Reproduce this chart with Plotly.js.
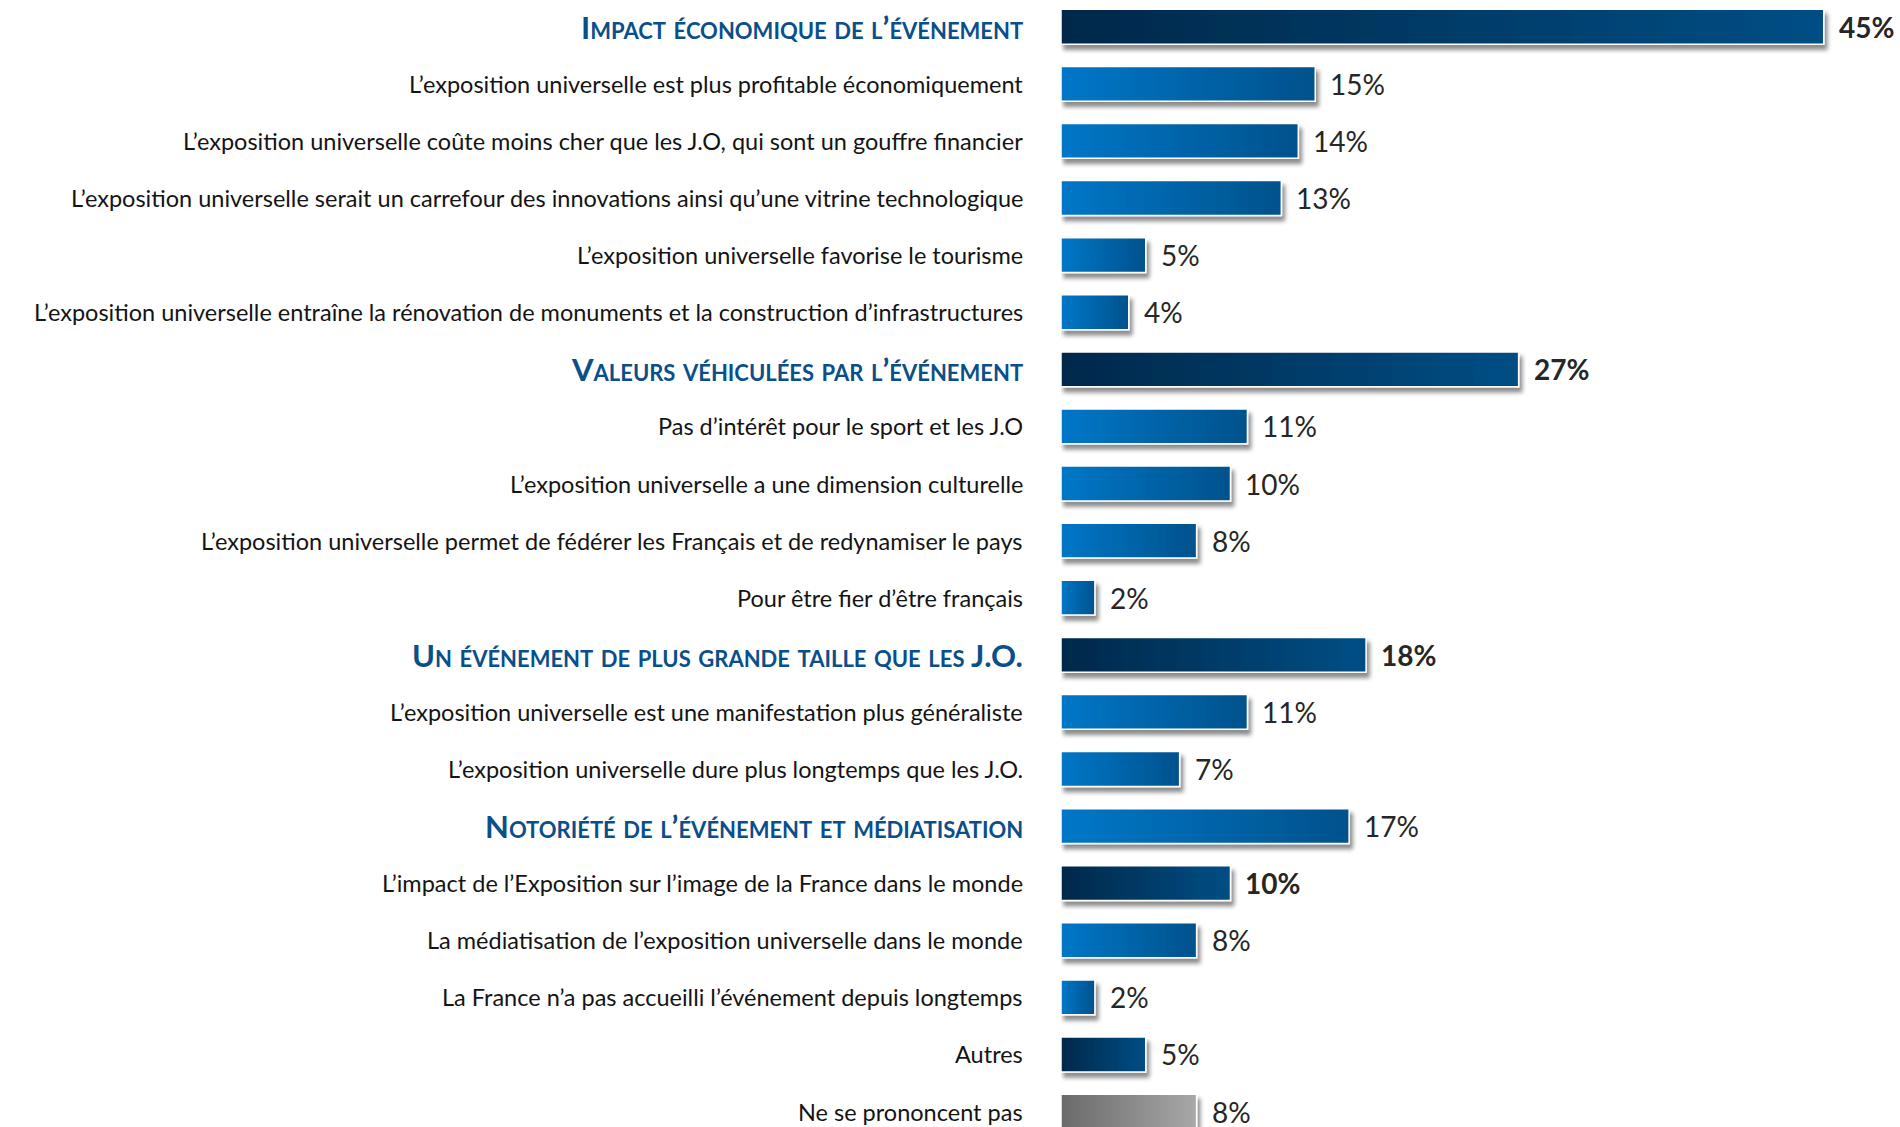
<!DOCTYPE html>
<html>
<head>
<meta charset="utf-8">
<script src="https://cdn.plot.ly/plotly-3.0.1.min.js"></script>
<style>
html,body{margin:0;padding:0;background:#fff;}
#chart{width:1900px;height:1127px;}
</style>
</head>
<body>
<div id="chart"></div>
<script>
// ---- data ----
const categories = [
  "Impact économique de l’événement",
  "L’exposition universelle est plus profitable économiquement",
  "L’exposition universelle coûte moins cher que les J.O, qui sont un gouffre financier",
  "L’exposition universelle serait un carrefour des innovations ainsi qu’une vitrine technologique",
  "L’exposition universelle favorise le tourisme",
  "L’exposition universelle entraîne la rénovation de monuments et la construction d’infrastructures",
  "Valeurs véhiculées par l’événement",
  "Pas d’intérêt pour le sport et les J.O",
  "L’exposition universelle a une dimension culturelle",
  "L’exposition universelle permet de fédérer les Français et de redynamiser le pays",
  "Pour être fier d’être français",
  "Un événement de plus grande taille que les J.O.",
  "L’exposition universelle est une manifestation plus généraliste",
  "L’exposition universelle dure plus longtemps que les J.O.",
  "Notoriété de l’événement et médiatisation",
  "L’impact de l’Exposition sur l’image de la France dans le monde",
  "La médiatisation de l’exposition universelle dans le monde",
  "La France n’a pas accueilli l’événement depuis longtemps",
  "Autres",
  "Ne se prononcent pas"
];
const values = [45, 15, 14, 13, 5, 4, 27, 11, 10, 8, 2, 18, 11, 7, 17, 10, 8, 2, 5, 8];
// label style: 1 = section heading (small caps, blue, bold)
const isHeading = [1,0,0,0,0,0,1,0,0,0,0,1,0,0,1,0,0,0,0,0];
// bar style: 'dark', 'light', 'gray'
const barStyle = ['dark','light','light','light','light','light','dark','light','light','light','light','dark','light','light','light','dark','light','light','dark','gray'];
// bold value labels
const valueBold = [1,0,0,0,0,0,1,0,0,0,0,1,0,0,0,1,0,0,0,0];

// ---- styles ----
const FONT = 'Lato, "Open Sans", sans-serif';
const solid = {dark:'#003c68', light:'#0064ab', gray:'#888888'};
const grads = {
  dark:['#00284a','#004e85'],
  light:['#0077c8','#00528c'],
  gray:['#6a6a6a','#a8a8a8']
};

const trace = {
  type:'bar', orientation:'h',
  y: categories, x: values,
  marker:{color: barStyle.map(s=>solid[s]), line:{color:'#ffffff', width:1.5}},
  width:0.61,
  hoverinfo:'none'
};

const annotations = [];
categories.forEach((c,i)=>{
  annotations.push({
    xref:'x', yref:'y', x:0, y:c, xanchor:'right', yanchor:'middle',
    xshift:-36, showarrow:false, text:c,
    font: isHeading[i]
      ? {family:FONT, size:31, color:'#0b4f8a', weight:700, variant:'small-caps'}
      : {family:FONT, size:23.5, color:'#141414'}
  });
  annotations.push({
    xref:'x', yref:'y', x:values[i], y:c, xanchor:'left', yanchor:'middle',
    xshift:13, showarrow:false, text: values[i] + '%',
    font:{family:FONT, size:28, color:'#262626', weight: valueBold[i]?700:400}
  });
});

const layout = {
  width:1900, height:1127,
  margin:{l:1061, r:0, t:0, b:0},
  paper_bgcolor:'#ffffff', plot_bgcolor:'#ffffff',
  showlegend:false,
  xaxis:{range:[0, 49.5], visible:false, fixedrange:true},
  yaxis:{type:'category', range:[19.27, -0.468], showticklabels:false, showgrid:false, zeroline:false, showline:false, ticks:''},
  annotations: annotations
};

Plotly.newPlot('chart', [trace], layout, {staticPlot:true, displayModeBar:false}).then(gd=>{
  const ns = 'http://www.w3.org/2000/svg';
  const svg = gd.querySelector('.main-svg');
  let defs = svg.querySelector('defs');
  if(!defs){ defs = document.createElementNS(ns,'defs'); svg.insertBefore(defs, svg.firstChild); }
  Object.keys(grads).forEach(k=>{
    const lg = document.createElementNS(ns,'linearGradient');
    lg.setAttribute('id','grad-'+k);
    lg.setAttribute('x1','0'); lg.setAttribute('y1','0');
    lg.setAttribute('x2','1'); lg.setAttribute('y2','0');
    grads[k].forEach((col,j)=>{
      const st = document.createElementNS(ns,'stop');
      st.setAttribute('offset', j===0?'0':'1');
      st.setAttribute('stop-color', col);
      lg.appendChild(st);
    });
    defs.appendChild(lg);
  });
  const f = document.createElementNS(ns,'filter');
  f.setAttribute('id','barshadow');
  f.setAttribute('x','-50%'); f.setAttribute('y','-50%');
  f.setAttribute('width','200%'); f.setAttribute('height','200%');
  const ds = document.createElementNS(ns,'feDropShadow');
  ds.setAttribute('dx','3'); ds.setAttribute('dy','5');
  ds.setAttribute('stdDeviation','2.2');
  ds.setAttribute('flood-color','#000'); ds.setAttribute('flood-opacity','0.45');
  f.appendChild(ds);
  defs.appendChild(f);
  const paths = gd.querySelectorAll('.barlayer .trace .point path');
  paths.forEach((p,i)=>{
    p.style.fill = 'url(#grad-'+barStyle[i]+')';
    p.setAttribute('filter','url(#barshadow)');
  });
});
</script>
</body>
</html>
